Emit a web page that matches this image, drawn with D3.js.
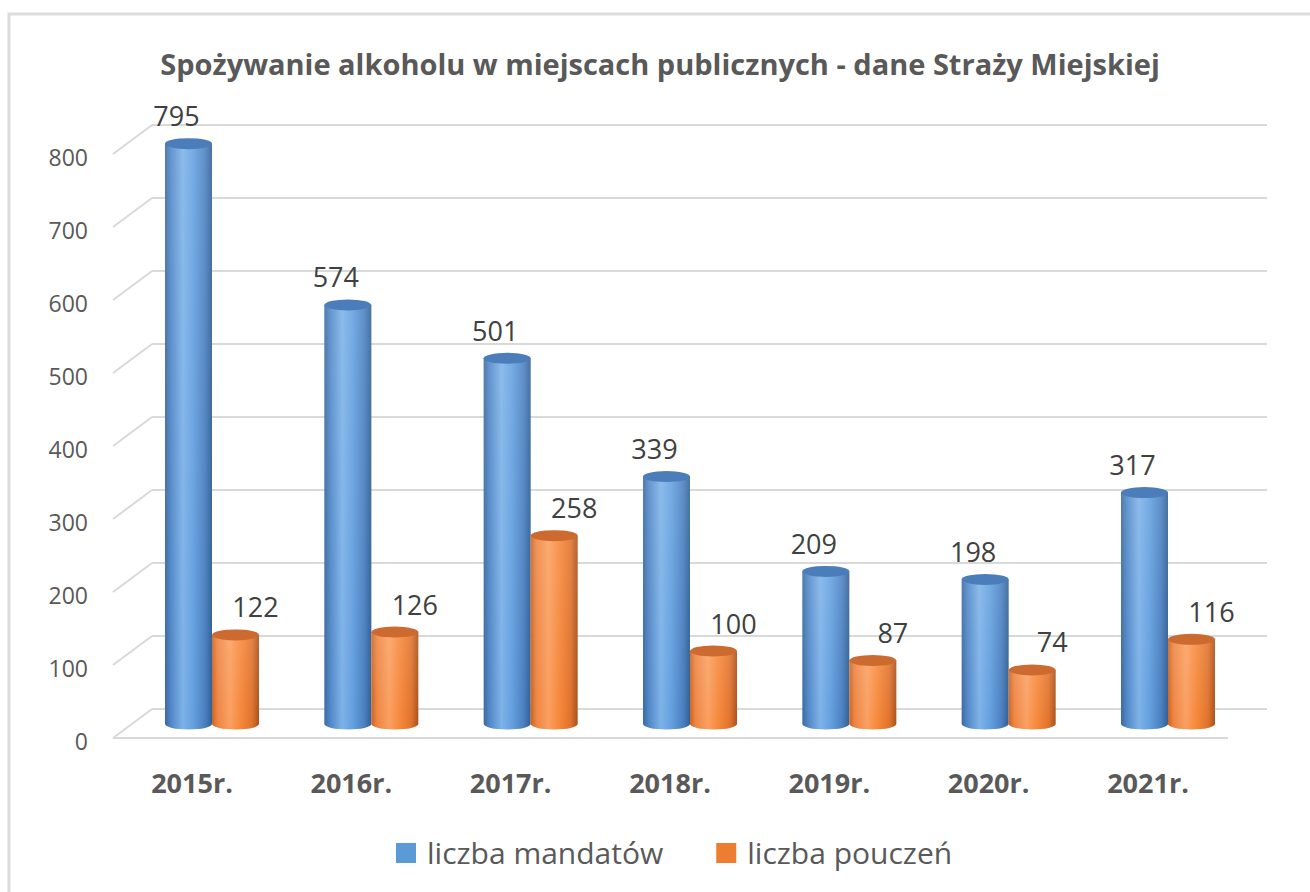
<!DOCTYPE html>
<html>
<head>
<meta charset="utf-8">
<script src="https://cdn.jsdelivr.net/npm/d3@7"></script>
<style>
  body { margin: 0; background: #fff; }
  text { font-family: "Open Sans", sans-serif; }
</style>
</head>
<body>
<div id="chart"></div>
<script>
// data
var years = ["2015r.", "2016r.", "2017r.", "2018r.", "2019r.", "2020r.", "2021r."];
var seriesNames = ["liczba mandatów", "liczba pouczeń"];
var mandaty = [795, 574, 501, 339, 209, 198, 317];
var pouczenia = [122, 126, 258, 100, 87, 74, 116];
var yTicks = [0, 100, 200, 300, 400, 500, 600, 700, 800];
var title = "Spożywanie alkoholu w miejscach publicznych - dane Straży Miejskiej";

var width = 1310, height = 892;

var svg = d3.select("#chart").append("svg")
    .attr("width", width)
    .attr("height", height);

// outer frame
svg.append("rect")
    .attr("x", 9).attr("y", 14)
    .attr("width", 1330).attr("height", 900)
    .attr("fill", "none")
    .attr("stroke", "#dcdcdc")
    .attr("stroke-width", 3);

var defs = svg.append("defs");

function cylGradient(id, stops) {
    var g = defs.append("linearGradient").attr("id", id)
        .attr("x1", "0%").attr("x2", "100%").attr("y1", "0%").attr("y2", "0%");
    stops.forEach(function(s) {
        g.append("stop").attr("offset", s[0]).attr("stop-color", s[1]);
    });
}
cylGradient("blueBody", [["0%", "#3a69a0"], ["12%", "#4f86c6"], ["38%", "#7db2e8"], ["60%", "#64a0df"], ["85%", "#4a80c0"], ["100%", "#315f95"]]);
cylGradient("orangeBody", [["0%", "#c9621f"], ["12%", "#ee8442"], ["38%", "#fa9f60"], ["60%", "#f6883a"], ["85%", "#e0722b"], ["100%", "#a9501a"]]);

// vertical shading
var vg = defs.append("linearGradient").attr("id", "shade")
    .attr("x1", "0%").attr("x2", "0%").attr("y1", "0%").attr("y2", "100%");
vg.append("stop").attr("offset", "0%").attr("stop-color", "#ffffff").attr("stop-opacity", 0.12);
vg.append("stop").attr("offset", "100%").attr("stop-color", "#ffffff").attr("stop-opacity", 0);

var bodyFill = ["url(#blueBody)", "url(#orangeBody)"];
var topFill = ["#4b7dba", "#cc6a2f"];
var legendColor = ["#5b9bd5", "#ed7d31"];

// scales
var y = d3.scaleLinear().domain([0, 800]).range([724, 724 - 800 * 0.73]);
var x = d3.scaleBand().domain(years).range([165, 1215]).paddingInner(0.41).paddingOuter(0);
var xs = d3.scaleBand().domain([0, 1]).range([0, x.bandwidth()]);

var backDy = -15, frontDy = 14, backX = 152, frontX = 113, rightX = 1267;

// gridlines (back wall + side)
var grid = svg.append("g");
yTicks.forEach(function(t) {
    grid.append("line")
        .attr("x1", backX).attr("x2", rightX)
        .attr("y1", y(t) + backDy).attr("y2", y(t) + backDy)
        .attr("stroke", "#d9d9d9").attr("stroke-width", 2);
    grid.append("line")
        .attr("x1", frontX).attr("x2", backX)
        .attr("y1", y(t) + frontDy).attr("y2", y(t) + backDy)
        .attr("stroke", "#d9d9d9").attr("stroke-width", 2);
});
// floor front edge
grid.append("line")
    .attr("x1", frontX).attr("x2", rightX - (backX - frontX))
    .attr("y1", y(0) + frontDy).attr("y2", y(0) + frontDy)
    .attr("stroke", "#d9d9d9").attr("stroke-width", 2);

// y axis labels
svg.append("g").selectAll("text")
    .data(yTicks).enter().append("text")
    .attr("x", 88)
    .attr("y", function(d) { return y(d) + frontDy + 3; })
    .attr("text-anchor", "end")
    .attr("dominant-baseline", "central")
    .style("font-size", "23px")
    .style("fill", "#595959")
    .text(function(d) { return d; });

// cylinders
var ry = 5.5;
var bars = [];
years.forEach(function(yr, i) {
    bars.push({cat: yr, s: 0, v: mandaty[i]});
    bars.push({cat: yr, s: 1, v: pouczenia[i]});
});

var barG = svg.append("g");
bars.forEach(function(d) {
    var x0 = x(d.cat) + xs(d.s);
    var w = xs.bandwidth();
    var rx = w / 2;
    var top = y(d.v), bottom = y(0);
    var body = "M" + x0 + "," + top +
        " L" + x0 + "," + bottom +
        " A" + rx + "," + ry + " 0 0 0 " + (x0 + w) + "," + bottom +
        " L" + (x0 + w) + "," + top + " Z";
    barG.append("path").attr("d", body).attr("fill", bodyFill[d.s]);
    barG.append("path").attr("d", body).attr("fill", "url(#shade)");
    barG.append("ellipse")
        .attr("cx", x0 + rx).attr("cy", top)
        .attr("rx", rx).attr("ry", ry)
        .attr("fill", topFill[d.s]);
});

// value labels
var labelDx = [-12, 20];
svg.append("g").selectAll("text")
    .data(bars).enter().append("text")
    .attr("x", function(d) { return x(d.cat) + xs(d.s) + xs.bandwidth() / 2 + labelDx[d.s]; })
    .attr("y", function(d) { return y(d.v) - 28; })
    .attr("text-anchor", "middle")
    .attr("dominant-baseline", "central")
    .style("font-size", "27px")
    .style("fill", "#404040")
    .text(function(d) { return d.v; });

// category labels
svg.append("g").selectAll("text")
    .data(years).enter().append("text")
    .attr("x", function(d) { return x(d) + x.bandwidth() / 2 - 20; })
    .attr("y", 782)
    .attr("text-anchor", "middle")
    .attr("dominant-baseline", "central")
    .style("font-size", "27px")
    .style("font-weight", "bold")
    .style("fill", "#595959")
    .text(function(d) { return d; });

// title
svg.append("text")
    .attr("x", 660).attr("y", 75)
    .attr("text-anchor", "middle")
    .style("font-size", "29px")
    .style("font-weight", "bold")
    .style("fill", "#595959")
    .text(title);

// legend
var lx = 396;
seriesNames.forEach(function(name, i) {
    svg.append("rect")
        .attr("x", lx).attr("y", 843)
        .attr("width", 20).attr("height", 20)
        .attr("fill", legendColor[i]);
    var t = svg.append("text")
        .attr("x", lx + 31).attr("y", 864)
        .style("font-size", "30px")
        .style("fill", "#595959")
        .text(name);
    lx += 31 + t.node().getComputedTextLength() + 53;
});
</script>
</body>
</html>
